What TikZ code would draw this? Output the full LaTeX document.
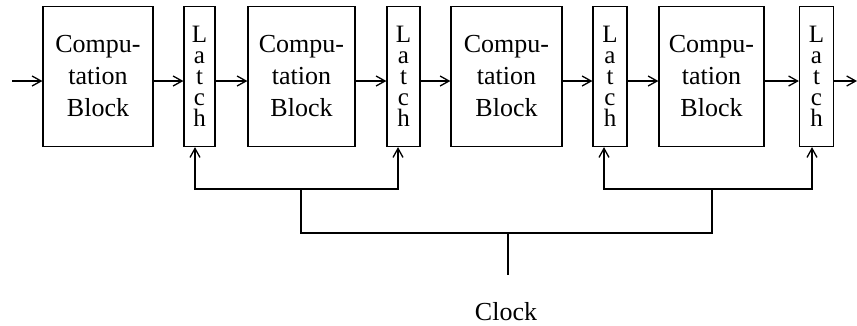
\documentclass[tikz,border=0pt]{standalone}
\usepackage{fontspec}
\setmainfont{Liberation Serif}
\usetikzlibrary{arrows.meta,calc}
\begin{document}
\begin{tikzpicture}[x=1pt,y=-1pt,
  line width=1.2pt,
  compbox/.style={draw, minimum height=140pt, inner sep=0pt, align=center,
    font=\fontsize{26}{32}\selectfont},
  latchbox/.style={draw, minimum width=31pt, minimum height=140pt, inner sep=0pt, align=center,
    font=\fontsize{25}{21}\selectfont},
  sig/.style={-{Straight Barb[length=9pt,width=10pt,line width=1.3pt]}},
  bus/.style={line width=1.3pt}]
\useasboundingbox (0,0) rectangle (857,325);
\node[compbox, minimum width=110pt] (b1) at (98,76.5) {Compu-\\tation\\Block};
\node[latchbox] (l1) at (199.5,76.5) {L\\a\\t\\c\\h};
\node[compbox, minimum width=107pt] (b2) at (301.5,76.5) {Compu-\\tation\\Block};
\node[latchbox, minimum width=33pt] (l2) at (403.5,76.5) {L\\a\\t\\c\\h};
\node[compbox, minimum width=111pt] (b3) at (506.5,76.5) {Compu-\\tation\\Block};
\node[latchbox, minimum width=34pt] (l3) at (610,76.5) {L\\a\\t\\c\\h};
\node[compbox, minimum width=105pt] (b4) at (711.5,76.5) {Compu-\\tation\\Block};
\node[latchbox, minimum width=34pt] (l4) at (816.5,76.5) {L\\a\\t\\c\\h};
\node[font=\fontsize{26}{32}\selectfont, inner sep=0pt] (clock) at (506,312) {Clock};
\coordinate (in) at (12,81);
\coordinate (out) at (857,81);
% data path
\draw[sig] (in) -- (in -| b1.west);
\draw[sig] (b1.east |- in) -- (l1.west |- in);
\draw[sig] (l1.east |- in) -- (b2.west |- in);
\draw[sig] (b2.east |- in) -- (l2.west |- in);
\draw[sig] (l2.east |- in) -- (b3.west |- in);
\draw[sig] (b3.east |- in) -- (l3.west |- in);
\draw[sig] (l3.east |- in) -- (b4.west |- in);
\draw[sig] (b4.east |- in) -- (l4.west |- in);
\draw[sig] (l4.east |- in) -- (out);
% clock tree
\coordinate (c1) at ($(l1.south)+(-4.5,0)$);
\coordinate (c2) at ($(l2.south)+(-5.5,0)$);
\coordinate (c3) at ($(l3.south)+(-6,0)$);
\coordinate (c4) at ($(l4.south)+(-4.5,0)$);
\coordinate (jl) at (301,189);
\coordinate (jr) at (712,189);
\coordinate (jc) at (508,233);
\coordinate (ce) at (508,275);
\draw[bus,sig] (jl) -| (c1);
\draw[bus,sig] (jl) -| (c2);
\draw[bus,sig] (jr) -| (c3);
\draw[bus,sig] (jr) -| (c4);
\draw[bus] (jl) -- (jl |- jc) -- (jr |- jc) -- (jr);
\draw[bus] (jc) -- (ce);
\end{tikzpicture}
\end{document}
